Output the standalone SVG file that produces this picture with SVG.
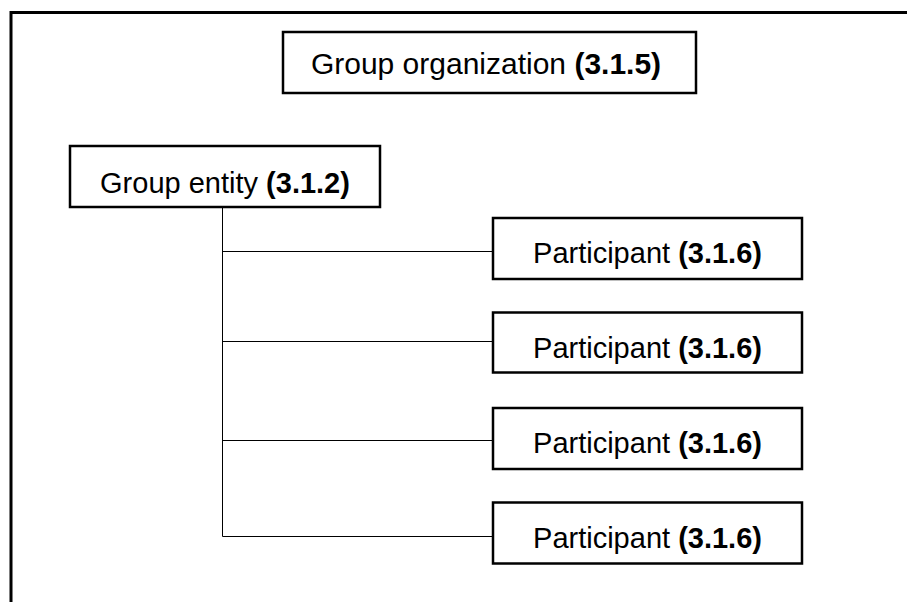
<svg xmlns="http://www.w3.org/2000/svg" width="907" height="602" viewBox="0 0 907 602">
<style>
.frame{fill:none;stroke:#000;stroke-width:3}
.box{fill:#fff;stroke:#000;stroke-width:2.5}
.lbl{font-family:"Liberation Sans",Arial,sans-serif;font-size:29px;fill:#000;text-anchor:middle}
.b{font-weight:bold}
.conn{fill:none;stroke:#000;stroke-width:1}
</style>
<rect width="907" height="602" fill="#fff"/>
<rect class="frame" x="11" y="12.5" width="1000" height="700"/>
<g id="connectors">
<path class="conn" d="M222.5 208V536.5H492M222.5 251.5H492M222.5 341.5H492M222.5 440.5H492"/>
</g>
<g id="group-organization">
<rect class="box" x="283" y="32" width="413" height="61"/>
<text class="lbl" x="486" y="74" style="font-size:30px">Group organization <tspan class="b">(3.1.5)</tspan></text>
</g>
<g id="group-entity">
<rect class="box" x="70" y="146" width="310" height="61"/>
<text class="lbl" x="225" y="193">Group entity <tspan class="b">(3.1.2)</tspan></text>
</g>
<g id="participant-1">
<rect class="box" x="493" y="218" width="309" height="61"/>
<text class="lbl" x="647.5" y="263">Participant <tspan class="b">(3.1.6)</tspan></text>
</g>
<g id="participant-2">
<rect class="box" x="493" y="312.5" width="309" height="60"/>
<text class="lbl" x="647.5" y="357.5">Participant <tspan class="b">(3.1.6)</tspan></text>
</g>
<g id="participant-3">
<rect class="box" x="493" y="408" width="309" height="61"/>
<text class="lbl" x="647.5" y="453">Participant <tspan class="b">(3.1.6)</tspan></text>
</g>
<g id="participant-4">
<rect class="box" x="493" y="502.5" width="309" height="61"/>
<text class="lbl" x="647.5" y="547.5">Participant <tspan class="b">(3.1.6)</tspan></text>
</g>
</svg>
